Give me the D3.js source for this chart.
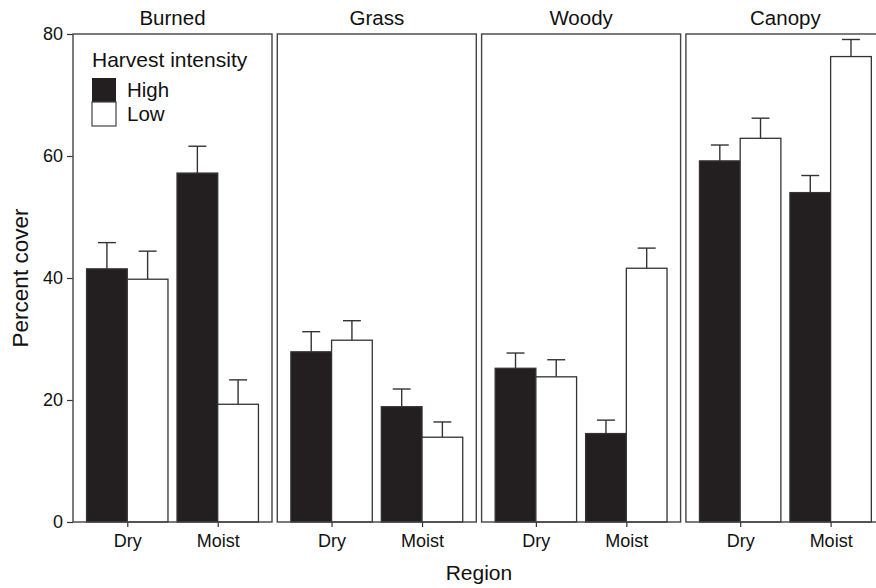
<!DOCTYPE html>
<html>
<head>
<meta charset="utf-8">
<script src="https://cdn.jsdelivr.net/npm/d3@7"></script>
<style>
  body { margin: 0; background: #fff; }
  svg { display: block; font-family: "Liberation Sans", Arial, Helvetica, sans-serif; }
</style>
</head>
<body>
<div id="chart"></div>
<script>
// panels, groups and bars
const covers = ["Burned", "Grass", "Woody", "Canopy"];
const regions = ["Dry", "Moist"];
const intensities = ["High", "Low"];
const yTicks = [0, 20, 40, 60, 80];

// means per cover (Burned, Grass, Woody, Canopy)
const highDry = [41.5, 27.9, 25.2, 59.2];
const lowDry = [39.8, 29.8, 23.8, 62.9];
const highMoist = [57.2, 18.9, 14.5, 54.0];
const lowMoist = [19.3, 13.9, 41.6, 76.3];

// top of error bars
const highDryUpper = [45.8, 31.2, 27.7, 61.8];
const lowDryUpper = [44.4, 33.0, 26.6, 66.2];
const highMoistUpper = [61.6, 21.8, 16.7, 56.8];
const lowMoistUpper = [23.3, 16.4, 44.9, 79.1];

const rows = [];
covers.forEach((c, i) => {
  rows.push({ cover: c, region: "Dry", intensity: "High", mean: highDry[i], upper: highDryUpper[i] });
  rows.push({ cover: c, region: "Dry", intensity: "Low", mean: lowDry[i], upper: lowDryUpper[i] });
  rows.push({ cover: c, region: "Moist", intensity: "High", mean: highMoist[i], upper: highMoistUpper[i] });
  rows.push({ cover: c, region: "Moist", intensity: "Low", mean: lowMoist[i], upper: lowMoistUpper[i] });
});

const W = 876, H = 588;
const plotLeft = 73, plotTop = 34, plotBottom = 522;
const panelW = 199, gap = 5.3;

const svg = d3.select("#chart").append("svg")
  .attr("width", W)
  .attr("height", H);

const panel = d3.scaleBand()
  .domain(covers)
  .range([plotLeft, plotLeft + 4 * panelW + 3 * gap])
  .paddingInner(gap / (panelW + gap));

const x = d3.scalePoint()
  .domain(regions)
  .range([0, panel.bandwidth()])
  .padding(0.6);

const dodge = d3.scaleBand()
  .domain(intensities)
  .range([-0.45 * x.step(), 0.45 * x.step()]);

const y = d3.scaleLinear().domain([0, 80]).range([plotBottom, plotTop]);

const fill = d3.scaleOrdinal().domain(intensities).range(["#231f20", "#ffffff"]);
const ink = "#333";

// y axis on first panel
svg.append("g")
  .attr("transform", `translate(${plotLeft},0)`)
  .call(d3.axisLeft(y).tickValues(yTicks).tickSize(6).tickPadding(4))
  .call(g => g.select(".domain").remove())
  .call(g => g.selectAll("line").attr("stroke", ink).attr("stroke-width", 1.2))
  .call(g => g.selectAll("text").attr("font-size", 18).attr("fill", "#111").attr("font-family", null));

const panels = svg.selectAll(".panel")
  .data(covers)
  .join("g")
  .attr("class", "panel")
  .attr("transform", d => `translate(${panel(d)},0)`);

// x axis per panel
panels.append("g")
  .attr("transform", `translate(0,${plotBottom})`)
  .each(function() {
    d3.select(this).call(d3.axisBottom(x).tickSize(5).tickPadding(5))
      .call(g => g.select(".domain").remove())
      .call(g => g.selectAll("line").attr("stroke", ink).attr("stroke-width", 1.2))
      .call(g => g.selectAll("text").attr("font-size", 18).attr("fill", "#111").attr("font-family", null).attr("dy", "0.85em"));
  });

// bars
const bars = panels.selectAll(".bar")
  .data(c => rows.filter(r => r.cover === c))
  .join("g")
  .attr("class", "bar");

bars.append("line")
  .attr("x1", d => x(d.region) + dodge(d.intensity) + dodge.bandwidth() / 2)
  .attr("x2", d => x(d.region) + dodge(d.intensity) + dodge.bandwidth() / 2)
  .attr("y1", d => y(d.mean))
  .attr("y2", d => y(d.upper))
  .attr("stroke", ink)
  .attr("stroke-width", 1.4);

bars.append("line")
  .attr("x1", d => x(d.region) + dodge(d.intensity) + dodge.bandwidth() * 0.28)
  .attr("x2", d => x(d.region) + dodge(d.intensity) + dodge.bandwidth() * 0.72)
  .attr("y1", d => y(d.upper))
  .attr("y2", d => y(d.upper))
  .attr("stroke", ink)
  .attr("stroke-width", 1.4);

bars.append("rect")
  .attr("x", d => x(d.region) + dodge(d.intensity))
  .attr("width", dodge.bandwidth())
  .attr("y", d => y(d.mean))
  .attr("height", d => y(0) - y(d.mean))
  .attr("fill", d => fill(d.intensity))
  .attr("stroke", ink)
  .attr("stroke-width", 1.3);

// panel borders
panels.append("rect")
  .attr("x", 0)
  .attr("y", plotTop)
  .attr("width", panel.bandwidth())
  .attr("height", plotBottom - plotTop)
  .attr("fill", "none")
  .attr("stroke", "#444")
  .attr("stroke-width", 1.4);

// strip labels
panels.append("text")
  .attr("x", panel.bandwidth() / 2)
  .attr("y", 25)
  .attr("text-anchor", "middle")
  .attr("font-size", 20.5)
  .attr("fill", "#111")
  .text(d => d);

// axis titles
svg.append("text")
  .attr("x", plotLeft + (4 * panelW + 3 * gap) / 2)
  .attr("y", 580)
  .attr("text-anchor", "middle")
  .attr("font-size", 21)
  .attr("fill", "#111")
  .text("Region");

svg.append("text")
  .attr("transform", `translate(28,${(plotTop + plotBottom) / 2}) rotate(-90)`)
  .attr("text-anchor", "middle")
  .attr("font-size", 22.5)
  .attr("fill", "#111")
  .text("Percent cover");

// legend
const legend = svg.append("g").attr("transform", "translate(92,0)");
legend.append("text")
  .attr("x", 0)
  .attr("y", 67)
  .attr("font-size", 21)
  .attr("fill", "#111")
  .text("Harvest intensity");

const keys = legend.selectAll(".key")
  .data(intensities)
  .join("g")
  .attr("class", "key")
  .attr("transform", (d, i) => `translate(0,${78 + i * 24})`);

keys.append("rect")
  .attr("width", 24)
  .attr("height", 24)
  .attr("fill", d => fill(d))
  .attr("stroke", d => d === "Low" ? "#444" : "none")
  .attr("stroke-width", 1.2);

keys.append("text")
  .attr("x", 35)
  .attr("y", 19)
  .attr("font-size", 20.5)
  .attr("fill", "#111")
  .text(d => d);
</script>
</body>
</html>
